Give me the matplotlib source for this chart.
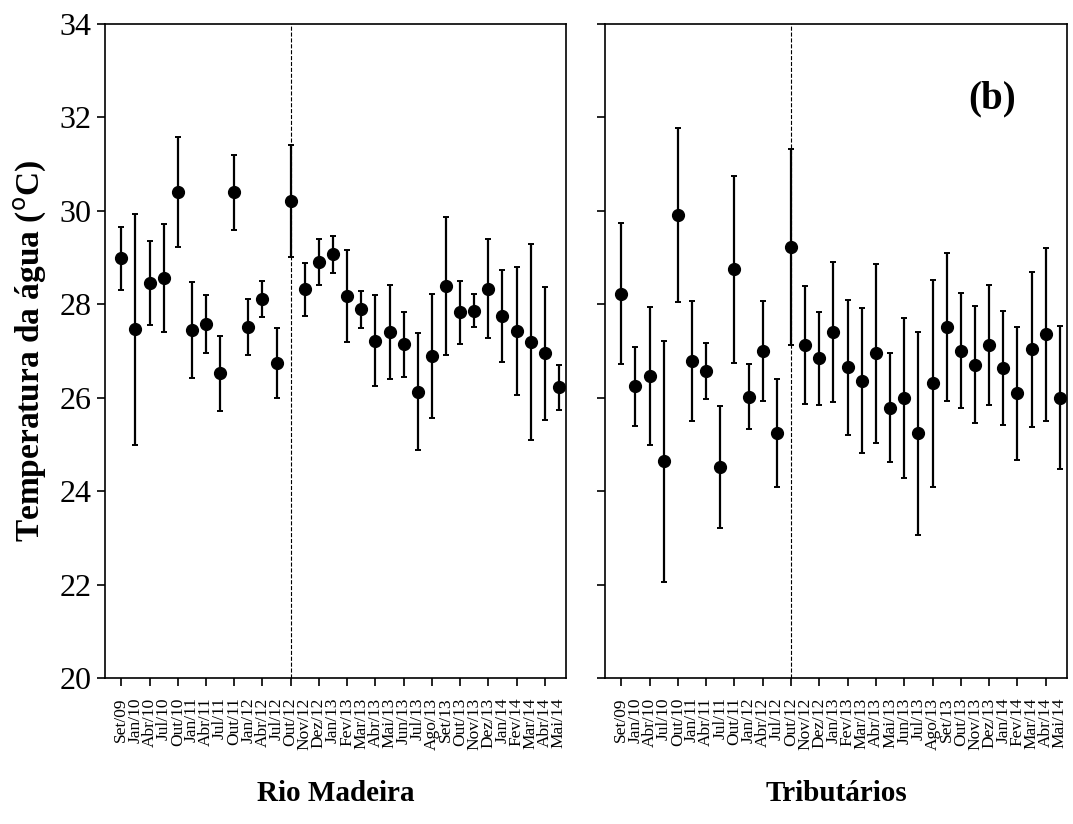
import matplotlib
matplotlib.use("Agg")
import matplotlib.pyplot as plt

months = ["Set/09", "Jan/10", "Abr/10", "Jul/10", "Out/10", "Jan/11", "Abr/11", "Jul/11",
          "Out/11", "Jan/12", "Abr/12", "Jul/12", "Out/12", "Nov/12", "Dez/12", "Jan/13",
          "Fev/13", "Mar/13", "Abr/13", "Mai/13", "Jun/13", "Jul/13", "Ago/13", "Set/13",
          "Out/13", "Nov/13", "Dez/13", "Jan/14", "Fev/14", "Mar/14", "Abr/14", "Mai/14"]

madeira_mean = [28.98, 27.46, 28.45, 28.56, 30.40, 27.45, 27.58, 26.52,
                30.40, 27.52, 28.11, 26.75, 30.22, 28.32, 28.90, 29.07,
                28.18, 27.89, 27.22, 27.41, 27.14, 26.13, 26.89, 28.39,
                27.83, 27.86, 28.33, 27.75, 27.43, 27.20, 26.95, 26.22]
madeira_err = [0.68, 2.47, 0.90, 1.15, 1.17, 1.03, 0.62, 0.80,
               0.80, 0.60, 0.38, 0.75, 1.20, 0.57, 0.49, 0.40,
               0.98, 0.40, 0.97, 1.00, 0.69, 1.25, 1.33, 1.48,
               0.67, 0.35, 1.06, 0.98, 1.37, 2.10, 1.43, 0.49]

trib_mean = [28.23, 26.24, 26.47, 24.64, 29.91, 26.79, 26.57, 24.52,
             28.75, 26.02, 27.00, 25.24, 29.23, 27.13, 26.84, 27.40,
             26.65, 26.36, 26.95, 25.79, 26.00, 25.24, 26.31, 27.52,
             27.01, 26.71, 27.13, 26.64, 26.09, 27.04, 27.36, 26.00]
trib_err = [1.51, 0.85, 1.48, 2.58, 1.86, 1.29, 0.60, 1.30,
            2.00, 0.70, 1.06, 1.15, 2.10, 1.27, 1.00, 1.50,
            1.45, 1.55, 1.92, 1.16, 1.71, 2.17, 2.22, 1.58,
            1.24, 1.25, 1.28, 1.22, 1.42, 1.66, 1.85, 1.53]

panels = [("Rio Madeira", madeira_mean, madeira_err),
          ("Tributários", trib_mean, trib_err)]
split_month = "Out/12"

plt.rcParams['font.family'] = ['Liberation Serif', 'DejaVu Serif']

fig = plt.figure(figsize=(10.73, 8.24), dpi=100)
ax_left = fig.add_axes([0.0979, 0.1772, 0.4296, 0.7937])
ax_right = fig.add_axes([0.5638, 0.1772, 0.4306, 0.7937])

x = list(range(len(months)))
for ax, (name, mean, err) in zip([ax_left, ax_right], panels):
    ax.errorbar(x, mean, yerr=err, fmt='o', color='black', ms=8.5,
                elinewidth=1.6, capsize=2, capthick=1.4)
    ax.axvline(months.index(split_month), color='black', ls='--', lw=0.8)
    ax.set_ylim(20, 34)
    ax.set_yticks(range(20, 35, 2))
    ax.set_xlim(-1.15, len(months) - 0.5)
    ax.set_xticks(x)
    ax.set_xticklabels(months, rotation=90, fontsize=12.5)
    for i, t in enumerate(ax.xaxis.get_major_ticks()):
        if i % 2:
            t.tick1line.set_visible(False)
    ax.tick_params(axis='x', length=6, width=1.2, pad=8)
    ax.tick_params(axis='y', length=6, width=1.2, labelsize=23)
    for s in ax.spines.values():
        s.set_linewidth(1.2)
    ax.set_xlabel(name, fontsize=21, fontweight='bold', labelpad=22)

ax_right.tick_params(axis='y', labelleft=False)
ax_left.set_ylabel("Temperatura da água ($^{\\mathrm{o}}$C)", fontsize=24,
                   fontweight='bold', labelpad=8)
ax_right.text(0.838, 0.886, "(b)", transform=ax_right.transAxes, fontsize=28,
              fontweight='bold', ha='center', va='center')

fig.savefig("out.png", dpi=100)
